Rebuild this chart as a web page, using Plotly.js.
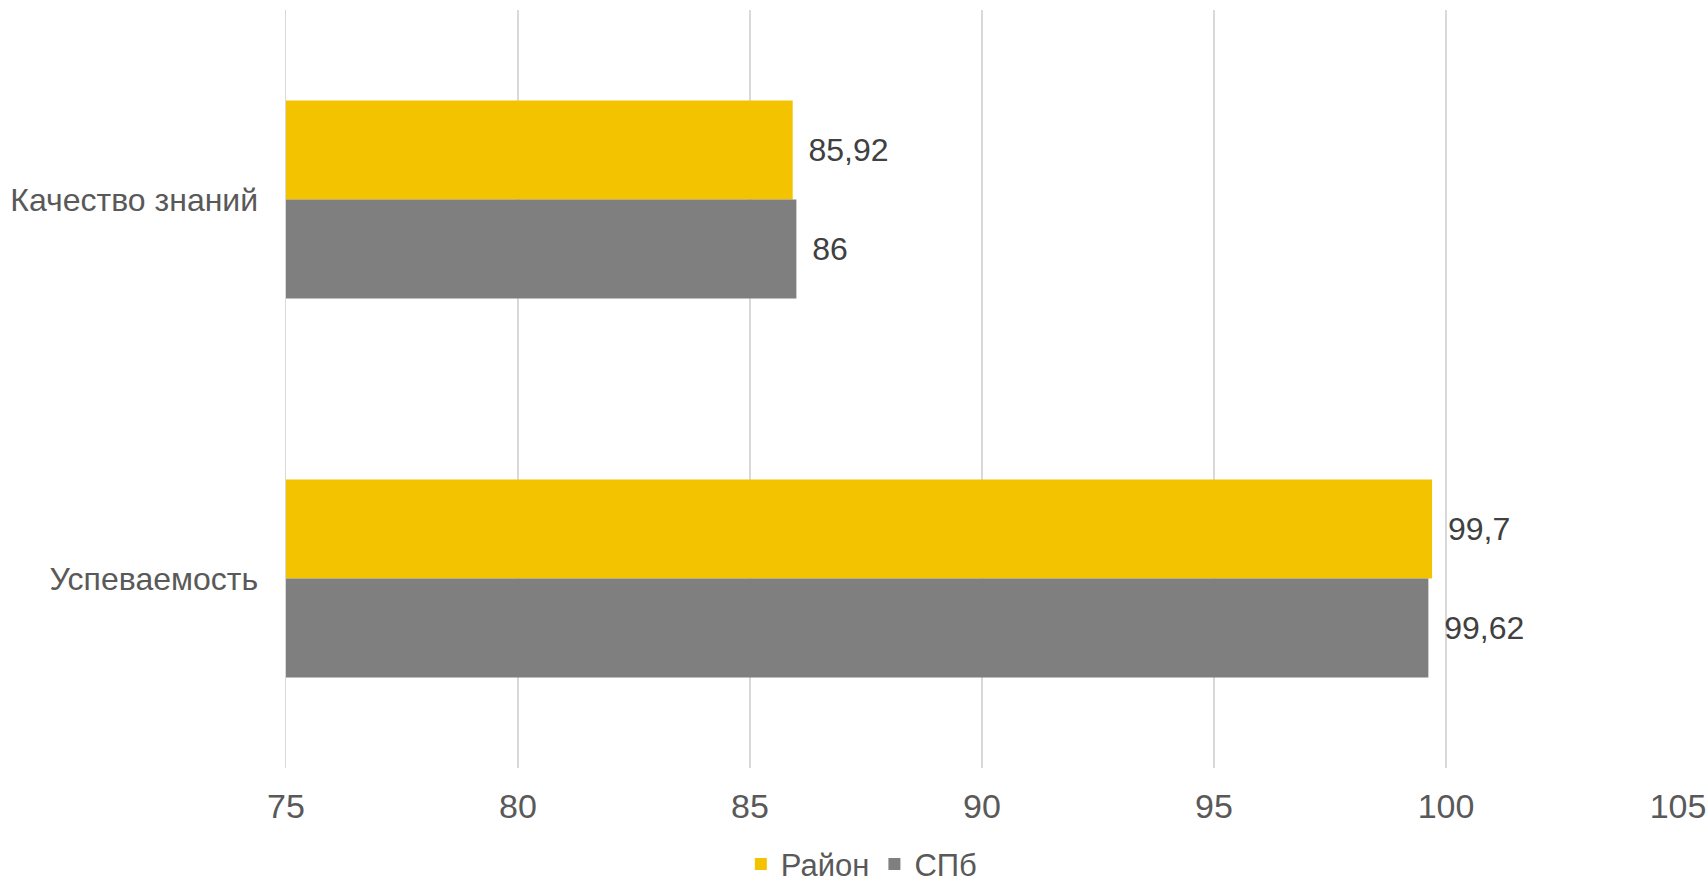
<!DOCTYPE html>
<html>
<head>
<meta charset="utf-8">
<script src="https://cdn.plot.ly/plotly-3.0.1.min.js"></script>
<style>html,body{margin:0;padding:0;background:#fff;}#chart{width:1707px;height:883px;}</style>
</head>
<body>
<div id="chart"></div>
<script>
const categories = ['Качество знаний', 'Успеваемость'];
const seriesNames = ['Район', 'СПб'];
const raionValues = [85.92, 99.7];
const spbValues = [86, 99.62];
const xTicks = [75, 80, 85, 90, 95, 100, 105];

const fmt = v => '\u2009\u2009' + String(v).replace('.', ',');
const labelFont = {family: 'Liberation Sans, Arial, sans-serif', size: 32, color: '#404040'};

const traces = [
  {type: 'bar', orientation: 'h', name: seriesNames[0], y: categories, x: raionValues,
   marker: {color: '#F4C300'}, text: raionValues.map(fmt), textposition: 'outside',
   textfont: labelFont, cliponaxis: false, hoverinfo: 'x+y'},
  {type: 'bar', orientation: 'h', name: seriesNames[1], y: categories, x: spbValues,
   marker: {color: '#7F7F7F'}, text: spbValues.map(fmt), textposition: 'outside',
   textfont: labelFont, cliponaxis: false, hoverinfo: 'x+y'}
];

const layout = {
  width: 1707, height: 883,
  margin: {l: 286, r: 29, t: 10, b: 115, autoexpand: false},
  paper_bgcolor: '#fff', plot_bgcolor: '#fff',
  font: {family: 'Liberation Sans, Arial, sans-serif', color: '#595959'},
  barmode: 'group', bargap: 0.478, bargroupgap: 0,
  xaxis: {range: [75, 105], tickvals: xTicks, ticktext: xTicks.map(String),
          showgrid: true, gridcolor: '#D9D9D9', gridwidth: 1.5, zeroline: false,
          showline: false, ticks: '', tickfont: {size: 34, color: '#595959'},
          ticklabelstandoff: 15, automargin: false, fixedrange: true},
  yaxis: {type: 'category', categoryorder: 'array', categoryarray: categories,
          autorange: 'reversed', showgrid: false, zeroline: false,
          showline: true, linecolor: '#D9D9D9', linewidth: 1.5,
          ticks: '', tickfont: {size: 32, color: '#595959'}, ticklabelstandoff: 20,
          automargin: false, fixedrange: true},
  showlegend: true,
  legend: {orientation: 'h', xref: 'container', yref: 'container',
           x: 0.434, xanchor: 'left', y: 0.021, yanchor: 'middle',
           font: {size: 31, color: '#595959'}, itemwidth: 30, tracegroupgap: 0},
};

Plotly.newPlot('chart', traces, layout, {displayModeBar: false, staticPlot: true});
</script>
</body>
</html>
